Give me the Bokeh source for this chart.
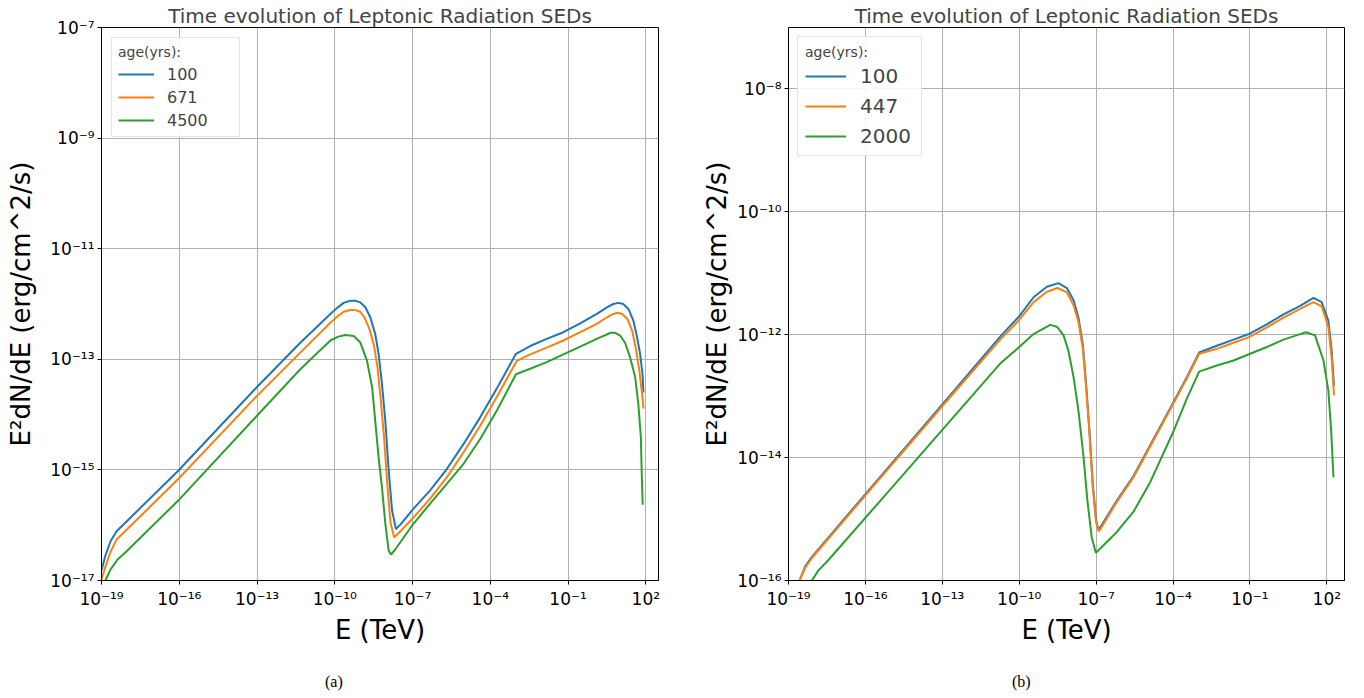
from bokeh.plotting import figure
from bokeh.layouts import row, column
from bokeh.models import (Range1d, FixedTicker, CustomJSTickFormatter, Legend,
                          LegendItem, Div)
from bokeh.embed import file_html
from bokeh.resources import INLINE

# ---------------- data (log10 values) ----------------
title_text = "Time evolution of Leptonic Radiation SEDs"
x_label = "E (TeV)"
y_label = "E\u00b2dN/dE (erg/cm^2/s)"
legend_title = "age(yrs):"
captions = ["(a)", "(b)"]

ages_a = ["100", "671", "4500"]
ages_b = ["100", "447", "2000"]
colors = ["#1f77b4", "#ff7f0e", "#2ca02c"]

xticks = [-19, -16, -13, -10, -7, -4, -1, 2]
yticks_a = [-17, -15, -13, -11, -9, -7]
yticks_b = [-16, -14, -12, -10, -8]

# panel (a): log10 E (TeV) and log10 E^2dN/dE
logE_a_100 = [-19.00, -18.85, -18.65, -18.42, -18.07, -16.03, -13.02, -11.33, -10.17, -9.91,
              -9.66, -9.40, -9.21, -9.02, -8.82, -8.63, -8.44, -8.31, -8.18, -8.05,
              -7.92, -7.79, -7.64, -7.47, -6.96, -6.32, -5.67, -5.03, -4.39, -3.75,
              -3.01, -2.46, -1.82, -1.18, -0.53, 0.11, 0.50, 0.75, 0.94, 1.13,
              1.33, 1.52, 1.65, 1.78, 1.87, 1.91]
logF_a_100 = [-16.82, -16.55, -16.29, -16.11, -15.95, -15.01, -13.51, -12.70, -12.18, -12.07,
              -11.98, -11.94, -11.94, -11.97, -12.06, -12.24, -12.54, -12.90, -13.44, -14.11,
              -15.01, -15.73, -16.07, -15.99, -15.70, -15.37, -14.98, -14.53, -14.05, -13.53,
              -12.90, -12.76, -12.63, -12.51, -12.35, -12.18, -12.06, -12.00, -11.98, -12.00,
              -12.09, -12.30, -12.57, -12.90, -13.26, -13.60]

logE_a_671 = [-19.00, -18.85, -18.65, -18.42, -18.07, -16.03, -13.02, -11.33, -10.17, -9.91,
              -9.66, -9.40, -9.21, -9.02, -8.86, -8.67, -8.48, -8.35, -8.23, -8.10,
              -7.97, -7.85, -7.71, -7.55, -6.96, -6.32, -5.67, -5.03, -4.39, -3.75,
              -2.98, -2.46, -1.82, -1.18, -0.53, 0.11, 0.50, 0.75, 0.90, 1.09,
              1.29, 1.48, 1.61, 1.74, 1.84, 1.91]
logF_a_671 = [-16.98, -16.75, -16.48, -16.26, -16.10, -15.16, -13.67, -12.88, -12.34, -12.23,
              -12.14, -12.11, -12.11, -12.14, -12.24, -12.44, -12.77, -13.15, -13.71, -14.40,
              -15.28, -15.95, -16.22, -16.15, -15.86, -15.52, -15.13, -14.68, -14.20, -13.68,
              -13.03, -12.91, -12.79, -12.66, -12.51, -12.36, -12.24, -12.18, -12.16, -12.18,
              -12.27, -12.49, -12.79, -13.17, -13.56, -13.89]

logE_a_4500 = [-18.85, -18.65, -18.38, -18.07, -16.03, -13.02, -11.33, -10.17, -9.86, -9.59,
               -9.27, -9.02, -8.76, -8.56, -8.44, -8.31, -8.18, -8.05, -7.92, -7.83,
               -7.67, -6.96, -6.32, -5.67, -5.03, -4.39, -3.75, -3.01, -2.46, -1.82,
               -1.18, -0.53, 0.11, 0.65, 0.82, 1.01, 1.20, 1.39, 1.59, 1.71,
               1.81, 1.84, 1.88]
logF_a_4500 = [-17.00, -16.80, -16.62, -16.49, -15.55, -14.03, -13.18, -12.66, -12.59, -12.56,
               -12.58, -12.69, -13.02, -13.50, -14.11, -14.77, -15.31, -15.97, -16.46, -16.53,
               -16.44, -15.97, -15.61, -15.25, -14.89, -14.44, -13.93, -13.27, -13.17, -13.05,
               -12.91, -12.77, -12.63, -12.52, -12.52, -12.57, -12.70, -12.96, -13.32, -13.80,
               -14.41, -15.01, -15.63]

# panel (b)
logE_b_100 = [-18.57, -18.35, -18.08, -15.54, -12.54, -10.74, -10.00, -9.44, -8.92, -8.47,
              -8.14, -7.88, -7.69, -7.52, -7.39, -7.26, -7.13, -7.00, -6.91, -6.77,
              -6.19, -5.54, -4.89, -4.01, -3.46, -2.98, -2.29, -1.64, -0.99, -0.34,
              0.31, 0.96, 1.48, 1.80, 2.06, 2.19, 2.28]
logF_b_100 = [-16.00, -15.77, -15.61, -14.37, -12.91, -12.03, -11.70, -11.39, -11.22, -11.16,
              -11.24, -11.44, -11.72, -12.15, -12.80, -13.56, -14.43, -15.02, -15.18, -15.09,
              -14.70, -14.30, -13.80, -13.12, -12.69, -12.29, -12.18, -12.08, -11.98, -11.83,
              -11.67, -11.53, -11.40, -11.47, -11.77, -12.26, -12.83]

logE_b_447 = [-18.57, -18.35, -18.08, -15.54, -12.54, -10.74, -10.00, -9.44, -8.92, -8.51,
              -8.14, -7.88, -7.69, -7.52, -7.39, -7.26, -7.13, -7.00, -6.89, -6.77,
              -6.19, -5.54, -4.89, -4.01, -3.46, -2.98, -2.29, -1.64, -0.99, -0.34,
              0.31, 0.96, 1.48, 1.80, 2.06, 2.19, 2.28]
logF_b_447 = [-16.00, -15.79, -15.63, -14.39, -12.94, -12.08, -11.76, -11.47, -11.30, -11.24,
              -11.31, -11.52, -11.79, -12.22, -12.86, -13.61, -14.47, -15.06, -15.20, -15.12,
              -14.72, -14.32, -13.82, -13.14, -12.71, -12.31, -12.23, -12.13, -12.03, -11.88,
              -11.72, -11.58, -11.47, -11.54, -11.87, -12.39, -12.99]

logE_b_2000 = [-18.09, -17.84, -17.45, -15.54, -12.54, -10.74, -10.00, -9.44, -8.79, -8.53,
               -8.27, -8.08, -7.88, -7.69, -7.49, -7.34, -7.17, -7.01, -6.84, -6.19,
               -5.54, -4.89, -4.01, -3.46, -2.98, -2.29, -1.64, -0.99, -0.34, 0.31,
               0.96, 1.19, 1.54, 1.87, 2.06, 2.17, 2.26]
logF_b_2000 = [-16.00, -15.84, -15.67, -14.76, -13.33, -12.47, -12.20, -11.99, -11.84, -11.87,
               -12.01, -12.26, -12.69, -13.23, -13.99, -14.70, -15.30, -15.55, -15.48, -15.21,
               -14.88, -14.40, -13.60, -13.04, -12.60, -12.50, -12.42, -12.31, -12.20, -12.08,
               -11.99, -11.96, -12.01, -12.42, -12.91, -13.56, -14.32]

series_a = [(logE_a_100, logF_a_100), (logE_a_671, logF_a_671), (logE_a_4500, logF_a_4500)]
series_b = [(logE_b_100, logF_b_100), (logE_b_447, logF_b_447), (logE_b_2000, logF_b_2000)]

FONT = "DejaVu Sans"

fmt_code = """
const e = Math.round(Math.log10(tick));
const sup = {'-':'\u207b','0':'\u2070','1':'\u00b9','2':'\u00b2','3':'\u00b3','4':'\u2074',
             '5':'\u2075','6':'\u2076','7':'\u2077','8':'\u2078','9':'\u2079'};
return '10' + String(e).split('').map(c => sup[c]).join('');
"""


def make_panel(series, ages, yticks, xmax_exp, ymin_exp, ymax_exp, width,
               border_left, border_right, ylab_standoff, leg_font, leg_title_font,
               leg_spacing, glyph_w, leg_standoff, leg_padding, leg_label_w, leg_label_h,
               leg_margin):
    p = figure(width=width, height=647, x_axis_type="log", y_axis_type="log",
               x_range=Range1d(1e-19, 10 ** xmax_exp),
               y_range=Range1d(10 ** ymin_exp, 10 ** ymax_exp),
               output_backend="svg", toolbar_location=None,
               min_border_left=border_left, min_border_right=border_right,
               min_border_top=27, min_border_bottom=67)
    p.title.text = title_text
    p.title.align = "center"
    p.title.text_font = FONT
    p.title.text_font_size = "20px"
    p.title.text_font_style = "normal"
    p.title.standoff = 0

    p.outline_line_color = "black"
    p.outline_line_width = 1
    p.outline_line_alpha = 1

    for ax in (p.xaxis, p.yaxis):
        ax.axis_line_color = "black"
        ax.major_tick_line_color = "black"
        ax.major_tick_out = 4
        ax.major_tick_in = 0
        ax.minor_tick_line_color = None
        ax.major_label_text_font = FONT
        ax.major_label_text_font_size = "17px"
        ax.major_label_text_color = "black"
        ax.axis_label_text_font = FONT
        ax.axis_label_text_font_size = "26px"
        ax.axis_label_text_font_style = "normal"
        ax.axis_label_text_color = "black"
        ax.formatter = CustomJSTickFormatter(code=fmt_code)
    p.xaxis.ticker = FixedTicker(ticks=[10.0 ** t for t in xticks], minor_ticks=[])
    p.yaxis.ticker = FixedTicker(ticks=[10.0 ** t for t in yticks], minor_ticks=[])
    p.xaxis.axis_label = x_label
    p.yaxis.axis_label = y_label
    p.xaxis.major_label_standoff = 4
    p.yaxis.major_label_standoff = 3
    p.xaxis.axis_label_standoff = 3
    p.yaxis.axis_label_standoff = ylab_standoff

    p.grid.grid_line_color = "#b0b0b0"
    p.grid.grid_line_width = 1

    items = []
    for (lx, ly), age, c in zip(series, ages, colors):
        r = p.line([10.0 ** v for v in lx], [10.0 ** v for v in ly],
                   line_color=c, line_width=2)
        items.append(LegendItem(label=age, renderers=[r]))

    leg = Legend(items=items, location="top_left", title=legend_title)
    leg.title_text_font = FONT
    leg.title_text_font_size = leg_title_font
    leg.title_text_font_style = "normal"
    leg.label_text_font = FONT
    leg.label_text_font_size = leg_font
    leg.border_line_color = "#cccccc"
    leg.border_line_width = 1
    leg.background_fill_alpha = 0.9
    leg.margin = leg_margin
    leg.padding = leg_padding
    leg.spacing = leg_spacing
    leg.glyph_width = glyph_w
    leg.label_standoff = leg_standoff
    leg.label_width = leg_label_w
    leg.label_height = leg_label_h
    leg.glyph_height = leg_label_h
    leg.title_standoff = 4
    p.add_layout(leg)
    return p


def caption_div(text, left):
    return Div(text=text, width=40, height=20, margin=(26, 0, 0, left),
               styles={"font-family": "Liberation Serif", "font-size": "16px",
                       "line-height": "18px", "color": "black"})


pa = make_panel(series_a, ages_a, yticks_a, 2.49, -17, -7, 698, 101, 40, 11,
                "16px", "14px", 3, 36, 13, 6, 66, 20, 10)
pb = make_panel(series_b, ages_b, yticks_b, 2.69, -16, -7, 666, 90, 20, 2,
                "20px", "14px", 6, 41, 14, 7, 54, 24, 9)

layout = row(column(pa, caption_div(captions[0], 325)),
             column(pb, caption_div(captions[1], 314)))
open("out.html", "w").write(file_html(layout, INLINE))
